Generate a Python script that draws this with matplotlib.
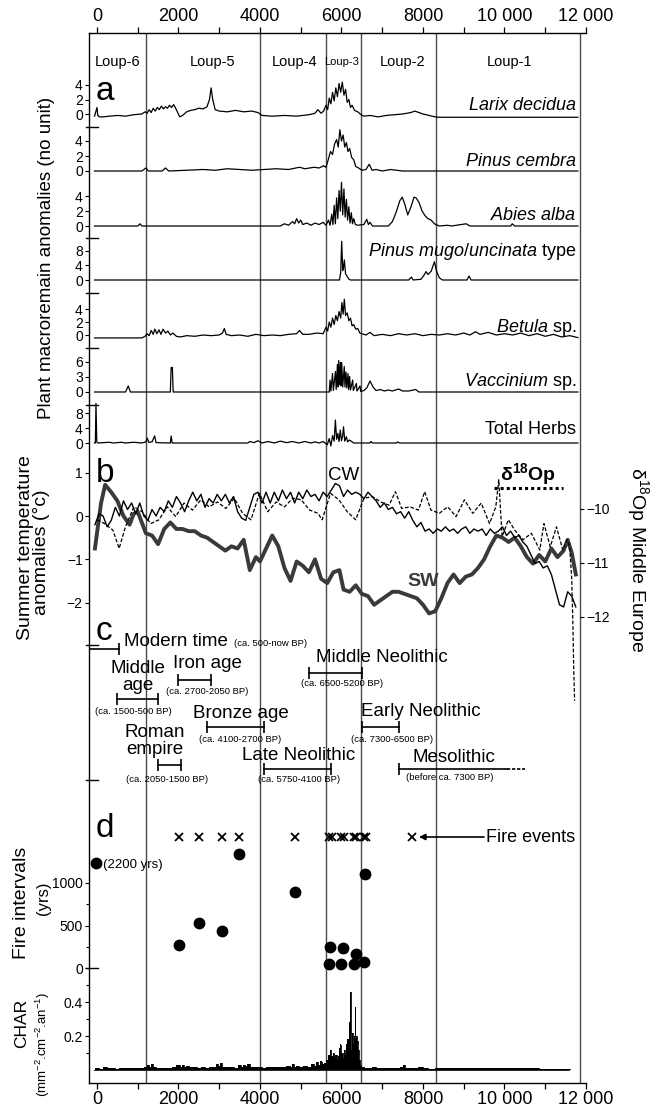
import matplotlib
matplotlib.use("Agg")
import numpy as np
import matplotlib.pyplot as plt
from matplotlib.ticker import FixedLocator, FuncFormatter

plt.rcParams['font.family'] = ['Liberation Sans', 'DejaVu Sans']
plt.rcParams['mathtext.fontset'] = 'custom'
plt.rcParams['mathtext.rm'] = 'Liberation Sans'
plt.rcParams['mathtext.it'] = 'Liberation Sans:italic'
plt.rcParams['mathtext.bf'] = 'Liberation Sans:bold'

# ---------------- data (years cal BP) ----------------
zone_names = ['Loup-6', 'Loup-5', 'Loup-4', 'Loup-3', 'Loup-2', 'Loup-1']
zone_bounds = [1210, 4010, 5610, 6490, 8310, 11850]

taxa_names = [r'$\it{Larix\ decidua}$', r'$\it{Pinus\ cembra}$', r'$\it{Abies\ alba}$',
              r'$\it{Pinus\ mugo/uncinata}$ type', r'$\it{Betula}$ sp.',
              r'$\it{Vaccinium}$ sp.', 'Total Herbs']
taxa_ticks = [[0, 2, 4], [0, 2, 4], [0, 2, 4], [0, 4, 8], [0, 2, 4], [0, 3, 6], [0, 4, 8]]

larix = [(-60, -0.3), (0, 0.9), (20, -0.2), (60, -0.4), (150, -0.4), (300, -0.3), (500, -0.2),
         (700, -0.3), (900, -0.1), (1100, 0.0), (1180, 0.3), (1230, 0.1), (1280, 0.6), (1330, 0.2),
         (1380, 0.8), (1430, 0.4), (1480, 0.9), (1530, 0.6), (1580, 1.1), (1630, 0.7), (1680, 1.0),
         (1730, 0.8), (1780, 1.2), (1830, 0.9), (1880, 1.3), (1930, 0.8), (1980, 0.2), (2030, -0.4),
         (2100, -0.2), (2200, 0.3), (2300, 0.5), (2400, 0.6), (2500, 0.8), (2600, 0.7), (2700, 1.0),
         (2760, 2.0), (2800, 3.6), (2840, 2.0), (2900, 0.6), (3000, 0.4), (3200, 0.3), (3400, 0.5),
         (3600, 0.3), (3800, 0.4), (3950, 0.2), (4050, -0.2), (4300, -0.3), (4600, -0.2), (4900, -0.3),
         (5200, -0.1), (5350, 0.1), (5420, 0.6), (5500, 0.1), (5560, 0.4), (5620, 1.2), (5660, 0.6),
         (5700, 2.2), (5740, 1.4), (5780, 3.0), (5820, 1.8), (5860, 3.6), (5900, 2.4), (5940, 4.2),
         (5980, 3.0), (6020, 4.4), (6060, 2.6), (6100, 3.4), (6140, 1.6), (6180, 2.0), (6220, 0.9),
         (6260, 1.2), (6320, 0.5), (6400, 0.3), (6480, -0.1), (6550, -0.3), (6700, -0.2), (6900, -0.4),
         (7100, -0.2), (7300, -0.1), (7500, 0.0), (7700, 0.2), (7800, 0.4), (7900, 0.2), (8000, 0.0),
         (8150, -0.2), (8300, -0.4), (8400, -0.45), (11800, -0.45)]

pinus_cembra = [(-60, 0), (1100, 0), (1200, 0.4), (1260, 0), (1600, 0), (1680, 0.4), (1760, 0),
                (2200, 0.1), (2600, 0.2), (2900, 0.1), (3200, 0.3), (3500, 0.2), (3800, 0.1),
                (4100, 0.2), (4400, 0.3), (4700, 0.2), (4970, 0.5), (5100, 0.3), (5330, 0.5),
                (5450, 0.4), (5560, 0.7), (5620, 0.5), (5680, 1.6), (5730, 2.6), (5780, 2.2),
                (5830, 3.6), (5880, 4.2), (5920, 3.2), (5960, 5.5), (6000, 4.0), (6040, 4.8),
                (6080, 3.2), (6120, 3.8), (6160, 2.6), (6200, 3.0), (6250, 1.8), (6300, 1.5),
                (6350, 0.6), (6420, 0.4), (6500, 0.1), (6600, 0.2), (6680, 0.9), (6750, 0.1),
                (6850, 0.2), (7000, 0.0), (7200, 0.2), (7500, 0.0), (11800, 0.0)]

abies_alba = [(-60, 0), (1000, 0), (1055, 0.3), (1100, 0), (4500, 0), (4600, 0.3), (4700, 0.1),
              (4800, 0.6), (4850, 0.3), (4900, 1.0), (4950, 0.4), (5000, 0.8), (5050, 0.2),
              (5150, 0.4), (5250, 0.1), (5350, 0.4), (5450, 0.2), (5550, 0.5), (5620, 0.1),
              (5680, 0.8), (5720, 0.1), (5760, 1.6), (5790, 0.2), (5820, 2.8), (5850, 0.3),
              (5880, 3.8), (5910, 1.0), (5940, 4.8), (5970, 2.0), (6000, 5.9), (6030, 1.5),
              (6060, 5.0), (6090, 1.2), (6120, 3.6), (6150, 0.8), (6180, 2.6), (6210, 0.4),
              (6240, 1.8), (6270, 0.3), (6300, 1.0), (6340, 0.2), (6400, 0.1), (6550, 0.2),
              (6620, 0.9), (6660, 0.2), (6700, 0.5), (6760, 0), (7150, 0), (7250, 0.6), (7350, 2.0),
              (7430, 3.4), (7490, 3.9), (7550, 3.0), (7625, 1.5), (7700, 2.5), (7780, 3.9),
              (7830, 3.8), (7900, 3.2), (7980, 2.0), (8050, 1.4), (8120, 1.0), (8200, 0.8),
              (8280, 0.3), (8400, 0), (8600, 0.1), (8700, 0), (9060, 0.3), (9150, 0), (10150, 0),
              (10190, 0.3), (10250, 0), (11800, 0)]

pinus_mugo = [(-60, 0), (5950, 0), (5980, 2.0), (6005, 10.6), (6030, 2.6), (6050, 3.5), (6070, 5.5),
              (6100, 1.7), (6150, 0.8), (6185, 0.2), (6220, 0), (7650, 0), (7715, 0.8), (7760, 0),
              (7950, 0.2), (8030, 1.4), (8075, 2.3), (8120, 1.5), (8200, 2.4), (8280, 5.0),
              (8330, 2.5), (8400, 0.6), (8480, 0), (9080, 0), (9130, 1.1), (9180, 0), (11800, 0)]

betula = [(-60, -0.45), (1100, -0.45), (1180, -0.2), (1230, 0.2), (1280, -0.1), (1330, 0.7),
          (1380, 0.1), (1420, 0.9), (1470, 0.2), (1520, 0.8), (1570, 0.1), (1620, 0.9), (1680, 0.3),
          (1740, 0.6), (1800, 0.0), (1860, 0.3), (1950, -0.2), (2050, -0.3), (2200, -0.1),
          (2400, -0.2), (2600, 0.0), (2800, -0.1), (3000, 0.0), (3080, 0.3), (3125, 1.0),
          (3170, 0.1), (3300, -0.1), (3500, 0.0), (3700, -0.2), (3900, 0.1), (4100, -0.1),
          (4300, 0.0), (4500, -0.1), (4700, 0.1), (4900, 0.2), (4970, 0.7), (5050, 0.1),
          (5200, 0.1), (5400, 0.3), (5550, 0.2), (5620, 1.2), (5660, 0.6), (5700, 2.0), (5740, 1.2),
          (5780, 2.6), (5820, 1.6), (5860, 3.0), (5900, 2.2), (5940, 3.6), (5980, 2.6), (6010, 5.0),
          (6040, 3.2), (6070, 5.5), (6100, 3.0), (6140, 3.4), (6180, 2.2), (6220, 2.6), (6260, 1.4),
          (6300, 1.6), (6350, 0.9), (6400, 1.0), (6450, 0.3), (6500, 0.2), (6600, 0.0), (6700, 0.4),
          (6800, -0.1), (7000, 0.1), (7200, -0.1), (7400, 0.2), (7600, 0.0), (7800, 0.2),
          (8000, -0.1), (8200, 0.1), (8400, 0.0), (8600, 0.2), (8800, 0.0), (9000, 0.3), (9150, 0.0),
          (9290, 0.5), (9400, 0.1), (9600, 0.4), (9800, 0.0), (10000, 0.2), (10200, 0.0),
          (10400, 0.3), (10600, -0.1), (10800, 0.2), (11000, -0.2), (11200, 0.1), (11400, -0.3),
          (11600, -0.1), (11800, -0.4)]

vaccinium = [(-60, 0), (700, 0), (767, 1.2), (820, 0), (1800, 0), (1820, 4.9), (1850, 4.9),
             (1870, 0), (5700, 0), (5720, 2.4), (5740, 0.2), (5780, 3.7), (5800, 0.3), (5852, 4.1),
             (5870, 0.5), (5900, 5.5), (5915, 1.0), (5933, 6.3), (5950, 1.5), (5975, 5.9),
             (5990, 1.2), (6005, 5.9), (6030, 1.0), (6068, 5.1), (6085, 1.0), (6110, 4.0),
             (6130, 0.8), (6160, 3.7), (6175, 0.5), (6200, 3.1), (6220, 0.4), (6275, 2.4),
             (6290, 0.3), (6365, 1.7), (6380, 0.2), (6455, 1.2), (6470, 0.1), (6550, 0.3),
             (6620, 0.8), (6700, 2.2), (6780, 0.9), (6850, 0.3), (6950, 0.5), (7050, 0.2),
             (7150, 0.4), (7250, 0.2), (7400, 0.6), (7500, 0.2), (7650, 0.2), (7820, 0.5), (7900, 0),
             (11800, 0)]

total_herbs = [(-60, 0), (-40, 0), (-25, 10.7), (-5, 0.3), (20, 0), (300, 0.2), (400, 0), (600, 0.2),
               (700, 0), (900, 0.2), (1100, 0), (1200, 0.3), (1235, 1.3), (1270, 0.2), (1350, 0.3),
               (1415, 1.9), (1450, 0.1), (1800, 0), (1820, 1.9), (1845, 0), (3700, 0), (3750, 0.4),
               (3850, 0.1), (3950, 0.6), (4050, 0), (4200, 0.4), (4350, 0), (4500, 0.5), (4650, 0.1),
               (4800, 0.4), (4950, 0), (5100, 0.4), (5250, 0), (5350, 0.3), (5450, 0), (5550, 0.4),
               (5650, -0.5), (5700, 1.2), (5740, -0.8), (5780, 2.0), (5820, 0.5), (5850, 6.2),
               (5880, 1.0), (5910, 2.6), (5940, 0.4), (5970, 3.5), (6000, 0.6), (6030, 2.0),
               (6050, 4.4), (6080, 0.5), (6120, 1.7), (6150, 0.3), (6190, 0.8), (6250, 0.4),
               (6300, 0), (6700, 0), (6720, 0.4), (6760, 0), (7350, 0), (7380, 0.3), (7420, 0),
               (11800, 0)]

taxa_data = [larix, pinus_cembra, abies_alba, pinus_mugo, betula, vaccinium, total_herbs]

# summer temperature anomalies (deg C)
sw_temp = [(-50, -0.75), (100, 0.3), (200, 0.72), (350, 0.55), (500, 0.35), (650, 0.0), (800, -0.2),
           (900, 0.05), (1000, 0.1), (1100, -0.15), (1200, -0.4), (1350, -0.45), (1500, -0.65),
           (1650, -0.3), (1800, -0.15), (1950, -0.3), (2100, -0.3), (2250, -0.35), (2400, -0.35),
           (2550, -0.45), (2700, -0.5), (2850, -0.6), (3000, -0.7), (3150, -0.8), (3300, -0.7),
           (3450, -0.75), (3600, -0.55), (3750, -1.25), (3900, -0.95), (4000, -1.05), (4150, -0.75),
           (4300, -0.45), (4450, -0.7), (4600, -1.2), (4750, -1.5), (4900, -1.05), (5050, -1.15),
           (5200, -1.3), (5350, -1.0), (5500, -1.45), (5650, -1.55), (5800, -1.3), (5950, -1.25),
           (6050, -1.7), (6200, -1.75), (6350, -1.6), (6500, -1.8), (6650, -1.85), (6800, -2.05),
           (6950, -1.95), (7100, -1.85), (7250, -1.75), (7400, -1.75), (7550, -1.8), (7700, -1.85),
           (7850, -1.9), (8000, -2.05), (8150, -2.25), (8300, -2.2), (8450, -1.9), (8600, -1.55),
           (8750, -1.35), (8900, -1.55), (9050, -1.4), (9200, -1.35), (9350, -1.2), (9500, -1.0),
           (9650, -0.7), (9800, -0.45), (9950, -0.5), (10100, -0.6), (10250, -0.5), (10400, -0.7),
           (10550, -0.95), (10700, -1.1), (10850, -0.9), (11000, -1.05), (11150, -0.75),
           (11300, -0.95), (11450, -0.8), (11550, -0.55), (11650, -0.85), (11750, -1.35)]

cw_temp = [(-50, -0.2), (50, 0.05), (150, 0.0), (250, -0.25), (350, -0.1), (450, 0.2), (550, 0.0),
           (650, 0.35), (750, 0.15), (850, 0.3), (950, 0.05), (1050, 0.3), (1150, 0.0), (1250, -0.1),
           (1350, 0.15), (1450, 0.0), (1550, 0.2), (1650, 0.1), (1750, 0.35), (1850, 0.2),
           (1950, 0.45), (2050, 0.3), (2150, 0.1), (2250, 0.35), (2350, 0.55), (2450, 0.35),
           (2550, 0.5), (2650, 0.2), (2750, 0.4), (2850, 0.3), (2950, 0.5), (3050, 0.35),
           (3150, 0.5), (3250, 0.3), (3350, 0.45), (3450, 0.1), (3550, -0.05), (3650, -0.1),
           (3750, 0.2), (3850, 0.5), (3950, 0.55), (4050, 0.3), (4150, 0.55), (4250, 0.3),
           (4350, 0.55), (4450, 0.35), (4550, 0.6), (4650, 0.4), (4750, 0.55), (4850, 0.3),
           (4950, 0.55), (5050, 0.4), (5150, 0.6), (5250, 0.45), (5350, 0.5), (5450, 0.35),
           (5550, 0.55), (5650, 0.45), (5750, 0.6), (5850, 0.75), (5950, 0.7), (6050, 0.45),
           (6150, 0.6), (6250, 0.5), (6350, 0.55), (6450, 0.5), (6550, 0.4), (6650, 0.55),
           (6750, 0.45), (6850, 0.35), (6950, 0.2), (7050, 0.3), (7150, 0.15), (7250, 0.2),
           (7350, 0.05), (7450, 0.1), (7550, -0.05), (7650, 0.1), (7750, -0.1), (7850, -0.25),
           (7950, -0.15), (8050, -0.35), (8150, -0.3), (8250, -0.4), (8350, -0.3), (8450, -0.35),
           (8550, -0.25), (8650, -0.35), (8750, -0.3), (8850, -0.4), (8950, -0.3), (9050, -0.25),
           (9150, -0.4), (9250, -0.3), (9350, -0.35), (9450, -0.3), (9550, -0.45), (9650, -0.3),
           (9750, -0.4), (9850, -0.35), (9950, -0.25), (10050, -0.45), (10150, -0.35),
           (10250, -0.5), (10350, -0.45), (10450, -0.6), (10550, -0.7), (10650, -0.9),
           (10750, -1.1), (10850, -1.05), (10950, -1.2), (11050, -1.15), (11150, -1.35),
           (11250, -1.7), (11350, -2.05), (11450, -2.1), (11550, -1.75), (11650, -1.85),
           (11750, -2.1)]

# delta18O of precipitation, Middle Europe (permil)
d18op = [(0, -10.20), (185, -10.27), (390, -10.39), (544, -10.73), (698, -10.33), (904, -9.96),
         (1109, -10.05), (1315, -10.27), (1520, -10.20), (1725, -9.96), (1931, -10.14),
         (2136, -9.89), (2342, -10.02), (2547, -9.83), (2752, -9.96), (2958, -9.87), (3163, -9.99),
         (3369, -9.80), (3574, -10.08), (3779, -10.20), (3985, -9.71), (4190, -10.05),
         (4396, -9.87), (4601, -9.96), (4806, -9.80), (5012, -9.83), (5217, -10.02), (5423, -10.08),
         (5525, -10.20), (5731, -9.71), (5936, -9.83), (6141, -10.05), (6347, -10.20),
         (6552, -9.80), (6758, -9.77), (6963, -9.87), (7168, -9.93), (7323, -9.68), (7477, -9.99),
         (7682, -9.96), (7887, -10.02), (8041, -9.68), (8195, -10.02), (8401, -10.08),
         (8606, -9.96), (8812, -10.14), (9017, -9.83), (9222, -10.08), (9428, -9.89),
         (9633, -10.27), (9787, -9.96), (9859, -9.46), (9941, -10.51), (10095, -10.20),
         (10249, -10.39), (10455, -10.57), (10660, -10.45), (10866, -10.76), (10968, -10.27),
         (11122, -10.70), (11276, -10.33), (11430, -10.76), (11533, -10.57), (11600, -10.7),
         (11650, -11.3), (11680, -12.2), (11700, -13.0), (11720, -13.55)]

# cultural periods (start, end in cal BP)
period_names = ['Modern time', 'Middle\nage', 'Iron age', 'Bronze age', 'Roman\nempire',
                'Late Neolithic', 'Middle Neolithic', 'Early Neolithic', 'Mesolithic']
period_notes = ['(ca. 500-now BP)', '(ca. 1500-500 BP)', '(ca. 2700-2050 BP)', '(ca. 4100-2700 BP)',
                '(ca. 2050-1500 BP)', '(ca. 5750-4100 BP)', '(ca. 6500-5200 BP)',
                '(ca. 7300-6500 BP)', '(before ca. 7300 BP)']
period_start = [-196, 500, 2000, 2700, 1500, 4100, 5200, 6500, 7400]
period_end = [550, 1500, 2800, 4100, 2050, 5750, 6500, 7400, 10050]
mesolithic_open_end = 10500

# fire history
fire_events = [2010, 2500, 3060, 3480, 4860, 5690, 5760, 5990, 6050, 6300, 6350, 6550, 6610, 7730]
fire_int_years = [-20, 2010, 2500, 3060, 3475, 4860, 5700, 5730, 5990, 6040, 6300, 6345, 6550, 6575]
fire_intervals = [2200, 270, 530, 435, 1340, 895, 50, 250, 50, 230, 50, 170, 70, 1105]

char = [(-60, 0.010), (0, 0.012), (100, 0.008), (200, 0.015), (300, 0.010), (400, 0.012),
        (500, 0.008), (600, 0.010), (700, 0.013), (800, 0.009), (900, 0.011), (1000, 0.010),
        (1100, 0.012), (1200, 0.018), (1250, 0.030), (1300, 0.020), (1350, 0.035), (1400, 0.015),
        (1500, 0.010), (1600, 0.012), (1700, 0.009), (1800, 0.012), (1900, 0.015), (2000, 0.028),
        (2050, 0.018), (2100, 0.032), (2150, 0.020), (2200, 0.026), (2300, 0.015), (2400, 0.018),
        (2500, 0.012), (2600, 0.016), (2700, 0.012), (2800, 0.018), (2900, 0.015), (2950, 0.038),
        (3000, 0.022), (3050, 0.040), (3100, 0.020), (3200, 0.016), (3300, 0.018), (3400, 0.014),
        (3500, 0.030), (3550, 0.018), (3600, 0.030), (3650, 0.022), (3700, 0.034), (3800, 0.020),
        (3900, 0.016), (4000, 0.020), (4100, 0.014), (4200, 0.018), (4300, 0.015), (4400, 0.020),
        (4500, 0.016), (4600, 0.020), (4700, 0.026), (4750, 0.018), (4800, 0.035), (4850, 0.020),
        (4900, 0.024), (5000, 0.018), (5100, 0.025), (5200, 0.020), (5300, 0.035), (5350, 0.025),
        (5400, 0.045), (5450, 0.030), (5500, 0.050), (5550, 0.035), (5600, 0.040), (5650, 0.060),
        (5700, 0.090), (5730, 0.120), (5760, 0.080), (5800, 0.100), (5830, 0.070), (5870, 0.090),
        (5900, 0.060), (5930, 0.080), (5960, 0.130), (5990, 0.150), (6010, 0.100), (6040, 0.070),
        (6070, 0.120), (6100, 0.090), (6130, 0.150), (6160, 0.180), (6190, 0.280), (6210, 0.150),
        (6230, 0.460), (6250, 0.120), (6270, 0.220), (6290, 0.150), (6310, 0.200), (6330, 0.370),
        (6350, 0.180), (6370, 0.200), (6390, 0.170), (6420, 0.120), (6450, 0.060), (6480, 0.030),
        (6500, 0.015), (6600, 0.010), (6700, 0.014), (6800, 0.018), (6900, 0.012), (7000, 0.010),
        (7100, 0.012), (7200, 0.009), (7300, 0.011), (7400, 0.010), (7480, 0.020), (7530, 0.032),
        (7580, 0.012), (7700, 0.010), (7800, 0.012), (7950, 0.016), (8050, 0.010), (8200, 0.008),
        (8400, 0.010), (8600, 0.009), (8800, 0.011), (9000, 0.010), (9200, 0.012), (9400, 0.009),
        (9600, 0.011), (9800, 0.010), (10000, 0.012), (10200, 0.009), (10400, 0.011),
        (10600, 0.010), (10800, 0.012), (10900, 0.008), (11100, 0.006), (11300, 0.005),
        (11500, 0.004), (11600, 0.003)]

# ---------------- layout (pixels of the 658 x 1115 image) ----------------
W, H = 658, 1115
X0, X1 = -196, 12000
LEFT, RIGHT = 89, 586
TOP, BOTTOM = 33, 1083
PPY = (RIGHT - LEFT) / (X1 - X0)  # pixels per year


def px2yr(px):
    return X0 + (px - LEFT) / PPY


def add_ax(fig, top_px, bot_px):
    return fig.add_axes([LEFT / W, 1 - bot_px / H, (RIGHT - LEFT) / W, (bot_px - top_px) / H])


def sub_ax(fig, top_px, bot_px, zero_px, ppu):
    ax = add_ax(fig, top_px, bot_px)
    ax.set_xlim(X0, X1)
    ax.set_ylim((zero_px - bot_px) / ppu, (zero_px - top_px) / ppu)
    ax.patch.set_visible(False)
    for s in ax.spines.values():
        s.set_visible(False)
    ax.set_xticks([])
    ax.tick_params(axis='y', which='major', direction='out', length=3, width=0.8,
                   labelsize=10, pad=1.5)
    ax.tick_params(axis='y', which='minor', direction='out', length=2, width=0.8)
    return ax


fig = plt.figure(figsize=(W / 100, H / 100), dpi=100)

# frame axes: x in years, y in image pixels
axf = add_ax(fig, TOP, BOTTOM)
axf.set_xlim(X0, X1)
axf.set_ylim(BOTTOM, TOP)
axf.patch.set_visible(False)
axf.spines['right'].set_visible(False)
for s in ['left', 'top', 'bottom']:
    axf.spines[s].set_linewidth(1.0)
axf.set_yticks([])
axf.xaxis.set_major_locator(FixedLocator(range(0, 12001, 2000)))
axf.xaxis.set_minor_locator(FixedLocator(range(1000, 12000, 2000)))
axf.xaxis.set_major_formatter(FuncFormatter(
    lambda v, p: f"{int(v):,}".replace(',', ' ') if v >= 10000 else f"{int(v)}"))
axf.tick_params(axis='x', which='both', top=True, bottom=True, labeltop=True, labelbottom=True,
                direction='out', length=4, width=0.9, labelsize=13, pad=2)

axf.vlines(zone_bounds, TOP, BOTTOM, color='#4a4a4a', lw=1.0, zorder=1)
zone_label_px = [118, 213, 295, 342, 403, 510]
for name, xp in zip(zone_names, zone_label_px):
    axf.text(px2yr(xp), 62, name, ha='center', va='center',
             fontsize=8 if name == 'Loup-3' else 10.5)

# long separator ticks on the left spine
for row in [127, 238, 293, 348, 405, 645, 780, 968]:
    axf.plot([px2yr(LEFT - 3), px2yr(LEFT + 9)], [row, row], color='k', lw=1.0, clip_on=False)

# panel letters
for letter, row in zip('abcd', [100, 482, 640, 837]):
    axf.text(px2yr(96), row, letter, fontsize=24, ha='left', va='baseline')

# ---------------- panel a ----------------
a_specs = [(70, 127, 114, 7.25), (127, 183, 171, 7.5), (183, 238, 226, 7.4), (238, 293, 280, 3.65),
           (293, 348, 335, 6.5), (348, 405, 392, 5.0), (405, 450, 443, 3.7)]
a_label_rows = [105, 162, 215, 252, 328, 381, 430]
for spec, series, ticks, name, row in zip(a_specs, taxa_data, taxa_ticks, taxa_names, a_label_rows):
    ax = sub_ax(fig, *spec)
    ax.set_yticks(ticks)
    yr, val = zip(*series)
    ax.plot(yr, val, color='k', lw=0.9, clip_on=False)
    axf.text(px2yr(576), row, name, ha='right', va='center', fontsize=13)

fig.text(47 / W, 1 - 258 / H, 'Plant macroremain anomalies (no unit)', rotation=90,
         ha='center', va='center', fontsize=13.5)

# ---------------- panel b ----------------
axb = sub_ax(fig, 450, 645, 516, 43.3)
axb.set_yticks([-2, -1, 0, 1])
yr, val = zip(*sw_temp)
axb.plot(yr, val, color='#3a3a3a', lw=2.8, clip_on=False, zorder=3)
yr, val = zip(*cw_temp)
axb.plot(yr, val, color='k', lw=1.0, clip_on=False, zorder=4)

axr = sub_ax(fig, 450, 720, 509 - 54 * 10, 54)
axr.set_ylim(-10 - (720 - 509) / 54, -10 + (509 - 450) / 54)
axr.yaxis.tick_right()
axr.spines['right'].set_position(('data', zone_bounds[-1]))
axr.set_yticks([-12, -11, -10])
axr.tick_params(axis='y', direction='out', length=3, width=0.8, labelsize=10, pad=1.5)
yr, val = zip(*d18op)
axr.plot(yr, val, color='k', lw=0.9, ls=(0, (3, 1.5)), clip_on=False, zorder=4)

axf.text(px2yr(344), 476, 'CW', ha='center', va='center', fontsize=13.5)
axf.text(px2yr(423), 581, 'SW', ha='center', va='center', fontsize=14, color='#3a3a3a',
         fontweight='bold')
axf.text(px2yr(528), 474, r'$\mathbf{\delta^{18}Op}$', ha='center', va='center', fontsize=14)
axf.plot([px2yr(494), px2yr(563)], [488, 488], color='k', lw=2.2, ls=(0, (1, 1)))

fig.text(26 / W, 1 - 548 / H, 'Summer temperature', rotation=90, ha='center', va='center',
         fontsize=14)
fig.text(41 / W, 1 - 552 / H, 'anomalies (°c)', rotation=90, ha='center', va='center',
         fontsize=14)
fig.text(638 / W, 1 - 560 / H, r'$\mathrm{\delta^{18}}$Op Middle Europe', rotation=270,
         ha='center', va='center', fontsize=14)

# ---------------- panel c ----------------
c_label_pos = [(124, 641, 'left'), (138, 677, 'center'), (207, 664, 'center'),
               (241, 713, 'center'), (155, 741, 'center'), (299, 755, 'center'),
               (382, 658, 'center'), (421, 711, 'center'), (454, 758, 'center')]
c_bar_rows = [649, 699, 680, 727, 765, 769, 673, 727, 769]
c_note_pos = [(234, 644, 'left'), (133, 711, 'center'), (207, 692, 'center'),
              (240, 739, 'center'), (167, 779, 'center'), (299, 780, 'center'),
              (342, 684, 'center'), (392, 739, 'center'), (450, 778, 'center')]
c_caps = ['right', 'both', 'both', 'both', 'both', 'both', 'both', 'both', 'left']

for i, name in enumerate(period_names):
    s, e, row = period_start[i], period_end[i], c_bar_rows[i]
    axf.plot([s, e], [row, row], color='k', lw=1.2)
    caps = {'right': [e], 'left': [s], 'both': [s, e]}[c_caps[i]]
    axf.plot(caps, [row] * len(caps), ls='none', marker='|', ms=8, mew=1.2, color='k')
    lx, ly, ha = c_label_pos[i]
    axf.text(px2yr(lx), ly, name, ha=ha, va='center', fontsize=13.5, linespacing=0.95)
    nx, ny, nha = c_note_pos[i]
    axf.text(px2yr(nx), ny, period_notes[i], ha=nha, va='center', fontsize=6.8)
axf.plot([period_end[-1], mesolithic_open_end], [c_bar_rows[-1]] * 2, color='k', lw=1.2,
         ls=(0, (2, 1)))

# ---------------- panel d ----------------
axf.plot(fire_events, [837] * len(fire_events), ls='none', marker='x', ms=6, mew=1.3, color='k')
axf.annotate('', xy=(px2yr(419), 837), xytext=(px2yr(484), 837),
             arrowprops=dict(arrowstyle='-|>', lw=1.2, color='k', mutation_scale=9,
                             shrinkA=0, shrinkB=0))
axf.text(px2yr(486), 837, 'Fire events', ha='left', va='center', fontsize=13)

axd = sub_ax(fig, 845, 980, 968, 0.085)
axd.set_yticks([0, 500, 1000])
axd.yaxis.set_minor_locator(FixedLocator([250, 750]))
# the 2200-yr interval is off scale: drawn just above the 1000 tick and labelled
shown = np.where(np.array(fire_intervals) > 2000, 1235, fire_intervals)
axd.plot(fire_int_years, shown, ls='none', marker='o', ms=7.5, color='k', clip_on=False)
axf.text(px2yr(103), 865, '(2200 yrs)', ha='left', va='center', fontsize=9.5)

axc = sub_ax(fig, 980, 1083, 1070, 170)
axc.set_yticks([0.2, 0.4])
axc.set_yticklabels(['0.2', '0.4'])
axc.yaxis.set_minor_locator(FixedLocator([0.1, 0.3, 0.5]))
yr, val = zip(*char)
axc.fill_between(yr, 0, val, step='mid', color='k', lw=0)
axc.plot(yr, val, color='k', lw=0.6, drawstyle='steps-mid')
axc.plot([-70, 11580], [0, 0], color='k', lw=0.6)

fig.text(22 / W, 1 - 903 / H, 'Fire intervals', rotation=90, ha='center', va='center',
         fontsize=14)
fig.text(43 / W, 1 - 898 / H, '(yrs)', rotation=90, ha='center', va='center', fontsize=12)
fig.text(22 / W, 1 - 1023 / H, 'CHAR', rotation=90, ha='center', va='center', fontsize=12.5)
fig.text(43 / W, 1 - 1045 / H, r'(mm$^{-2}$.cm$^{-2}$.an$^{-1}$)', rotation=90, ha='center',
         va='center', fontsize=9.5)

fig.savefig('out.png', dpi=100)
